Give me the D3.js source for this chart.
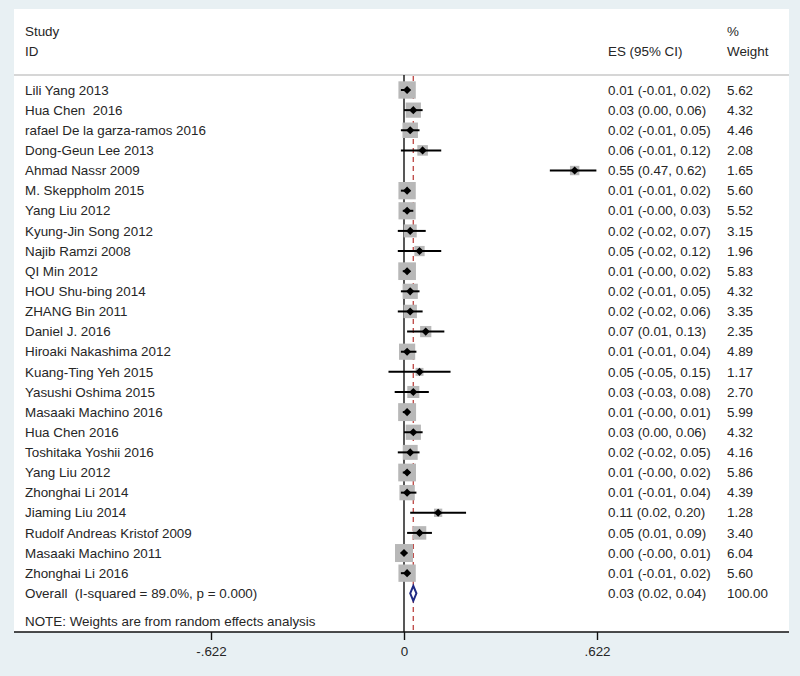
<!DOCTYPE html>
<html><head><meta charset="utf-8">
<script src="https://cdn.jsdelivr.net/npm/d3@7"></script>
<style>
body{margin:0;background:#e8f0f3;}
svg text{font-family:"Liberation Sans",Arial,sans-serif;font-size:13.4px;fill:#262626;white-space:pre;}
</style>
</head><body>
<svg id="chart" width="800" height="676"></svg>
<script>
const studies = ["Lili Yang 2013","Hua Chen  2016","rafael De la garza-ramos 2016","Dong-Geun Lee 2013","Ahmad Nassr 2009","M. Skeppholm 2015","Yang Liu 2012","Kyung-Jin Song 2012","Najib Ramzi 2008","QI Min 2012","HOU Shu-bing 2014","ZHANG Bin 2011","Daniel J. 2016","Hiroaki Nakashima 2012","Kuang-Ting Yeh 2015","Yasushi Oshima 2015","Masaaki Machino 2016","Hua Chen 2016","Toshitaka Yoshii 2016","Yang Liu 2012","Zhonghai Li 2014","Jiaming Liu 2014","Rudolf Andreas Kristof 2009","Masaaki Machino 2011","Zhonghai Li 2016"];
const es = [0.01,0.03,0.02,0.06,0.55,0.01,0.01,0.02,0.05,0.01,0.02,0.02,0.07,0.01,0.05,0.03,0.01,0.03,0.02,0.01,0.01,0.11,0.05,0.00,0.01];
const ciLow = [-0.01,0.00,-0.01,-0.01,0.47,-0.01,-0.004,-0.02,-0.02,-0.004,-0.01,-0.02,0.01,-0.01,-0.05,-0.03,-0.004,0.00,-0.02,-0.004,-0.01,0.02,0.01,-0.004,-0.01];
const ciHigh = [0.02,0.06,0.05,0.12,0.62,0.02,0.03,0.07,0.12,0.02,0.05,0.06,0.13,0.04,0.15,0.08,0.01,0.06,0.05,0.02,0.04,0.20,0.09,0.01,0.02];
const weights = [5.62,4.32,4.46,2.08,1.65,5.60,5.52,3.15,1.96,5.83,4.32,3.35,2.35,4.89,1.17,2.70,5.99,4.32,4.16,5.86,4.39,1.28,3.40,6.04,5.60];
const overallLabel = "Overall  (I-squared = 89.0%, p = 0.000)";
const overallES = [0.03];
const overallLow = [0.02];
const overallHigh = [0.04];
const overallWeight = [100.00];
const tickValues = [-0.622, 0, 0.622];
const tickLabels = ["-.622", "0", ".622"];
const noteText = "NOTE: Weights are from random effects analysis";

const svg = d3.select("#chart");
const panel = {x0: 14, x1: 789, y0: 9, y1: 632};
svg.append("rect").attr("x", panel.x0).attr("y", panel.y0)
  .attr("width", panel.x1 - panel.x0).attr("height", panel.y1 - panel.y0).attr("fill", "#ffffff");

const x = d3.scaleLinear().domain([-0.622, 0.622]).range([211, 597]);
const nRows = studies.length + 1;
const y = d3.scaleLinear().domain([0, nRows - 1]).range([90, 593.3]);
const size = d3.scaleSqrt().domain([0, 6.04]).range([0, 18]);
const f2 = v => v.toFixed(2);

// header
const hdr = svg.append("g");
hdr.append("text").attr("x", 25).attr("y", 31).attr("dy", "0.35em").text("Study");
hdr.append("text").attr("x", 25).attr("y", 51).attr("dy", "0.35em").text("ID");
hdr.append("text").attr("x", 608).attr("y", 51).attr("dy", "0.35em").text("ES (95% CI)");
hdr.append("text").attr("x", 727).attr("y", 31).attr("dy", "0.35em").text("%");
hdr.append("text").attr("x", 727).attr("y", 51).attr("dy", "0.35em").text("Weight");
svg.append("line").attr("x1", panel.x0).attr("x2", panel.x1).attr("y1", 75).attr("y2", 75)
  .attr("stroke", "#c9c9c9").attr("stroke-width", 1.5);

// reference lines
svg.append("line").attr("x1", x(0)).attr("x2", x(0)).attr("y1", 75).attr("y2", panel.y1)
  .attr("stroke", "#111").attr("stroke-width", 1.4);
svg.append("line").attr("x1", x(overallES[0])).attr("x2", x(overallES[0])).attr("y1", 76).attr("y2", panel.y1)
  .attr("stroke", "#c0504d").attr("stroke-width", 1.4).attr("stroke-dasharray", "5,4");

const idx = d3.range(studies.length);
// squares
svg.append("g").selectAll("rect").data(idx).join("rect")
  .attr("x", i => x(es[i]) - size(weights[i]) / 2)
  .attr("y", i => y(i) - size(weights[i]) / 2)
  .attr("width", i => size(weights[i]))
  .attr("height", i => size(weights[i]))
  .attr("fill", "#b8b8b8");
// CI lines
svg.append("g").selectAll("line").data(idx).join("line")
  .attr("x1", i => x(ciLow[i])).attr("x2", i => x(ciHigh[i]))
  .attr("y1", i => y(i)).attr("y2", i => y(i))
  .attr("stroke", "#000").attr("stroke-width", 2);
// point markers
svg.append("g").selectAll("path").data(idx).join("path")
  .attr("transform", i => `translate(${x(es[i])},${y(i)})`)
  .attr("d", d3.symbol(d3.symbolDiamond2, 42))
  .attr("fill", "#000");

// overall diamond
const oy = y(studies.length);
svg.append("path")
  .attr("d", `M${x(overallLow[0])},${oy} L${x(overallES[0])},${oy - 7.5} L${x(overallHigh[0])},${oy} L${x(overallES[0])},${oy + 7.5} Z`)
  .attr("fill", "#fff").attr("stroke", "#1f2a84").attr("stroke-width", 2);

// text columns
const tg = svg.append("g");
tg.selectAll("text.lab").data(idx).join("text").attr("class", "lab")
  .attr("x", 25).attr("y", i => y(i)).attr("dy", "0.35em").text(i => studies[i]);
tg.selectAll("text.es").data(idx).join("text").attr("class", "es")
  .attr("x", 608).attr("y", i => y(i)).attr("dy", "0.35em")
  .text(i => `${f2(es[i])} (${f2(ciLow[i])}, ${f2(ciHigh[i])})`);
tg.selectAll("text.w").data(idx).join("text").attr("class", "w")
  .attr("x", 727).attr("y", i => y(i)).attr("dy", "0.35em").text(i => f2(weights[i]));
tg.append("text").attr("x", 25).attr("y", oy).attr("dy", "0.35em").text(overallLabel);
tg.append("text").attr("x", 608).attr("y", oy).attr("dy", "0.35em")
  .text(`${f2(overallES[0])} (${f2(overallLow[0])}, ${f2(overallHigh[0])})`);
tg.append("text").attr("x", 727).attr("y", oy).attr("dy", "0.35em").text(f2(overallWeight[0]));
tg.append("text").attr("x", 25).attr("y", 621).attr("dy", "0.35em").text(noteText);

// axis
const axis = d3.axisBottom(x).tickValues(tickValues)
  .tickFormat((d, i) => tickLabels[i]).tickSize(8).tickSizeOuter(0).tickPadding(6);
const ag = svg.append("g").attr("transform", `translate(0,${panel.y1})`).call(axis);
ag.select(".domain").remove();
ag.selectAll(".tick line").attr("stroke", "#111").attr("stroke-width", 1.4);
ag.selectAll(".tick text").style("font-size", "13.4px").style("font-family", "Liberation Sans, Arial, sans-serif").attr("fill", "#262626");
svg.append("line").attr("x1", panel.x0).attr("x2", panel.x1).attr("y1", panel.y1).attr("y2", panel.y1)
  .attr("stroke", "#111").attr("stroke-width", 1.6);
</script>
</body></html>
